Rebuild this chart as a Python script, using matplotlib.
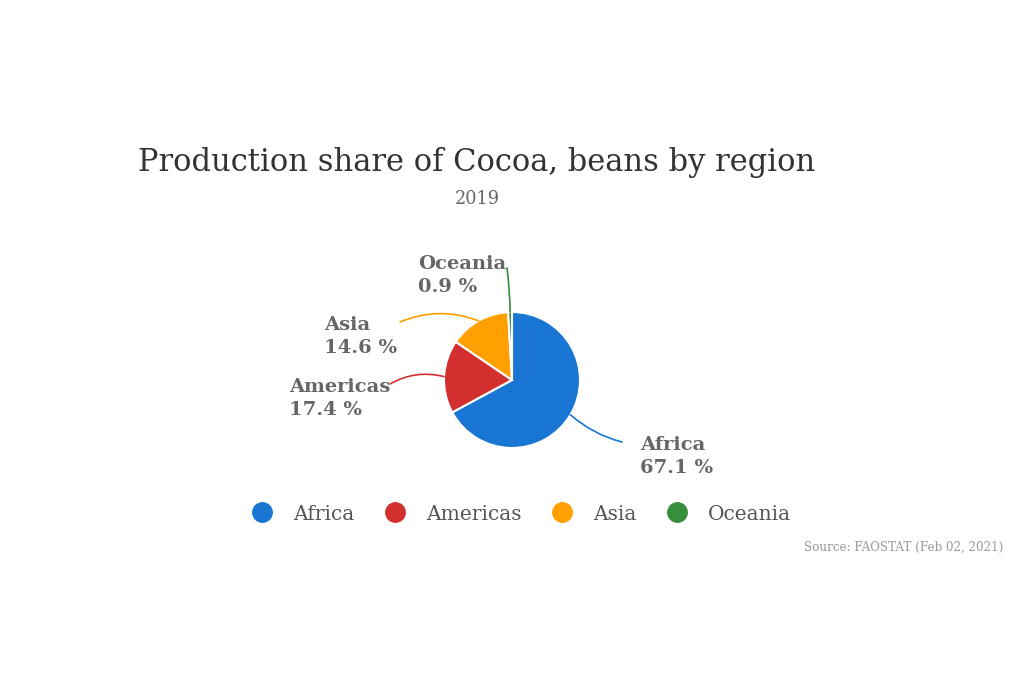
import matplotlib.pyplot as plt
from matplotlib.lines import Line2D
import numpy as np

regions = ["Africa", "Americas", "Asia", "Oceania"]
shares = [67.1, 17.4, 14.6, 0.9]
colors = ["#1976d2", "#d32f2f", "#ffa000", "#388e3c"]
title = "Production share of Cocoa, beans by region"
subtitle = "2019"
source = "Source: FAOSTAT (Feb 02, 2021)"

W, H = 1024, 683
plt.rcParams['font.family'] = ['DejaVu Serif']

fig = plt.figure(figsize=(W / 100, H / 100), dpi=100)
ax = fig.add_axes([0, 0, 1, 1])

def px(x, y):
    # image pixel (from top) -> data coords (from bottom)
    return x, H - y

cx, cy = px(512, 380)
radius = 68
wedges, _ = ax.pie(shares, colors=colors, startangle=90, counterclock=False,
                   center=(cx, cy), radius=radius,
                   wedgeprops=dict(edgecolor="white", linewidth=1.5))
ax.set_xlim(0, W)
ax.set_ylim(0, H)
ax.set_aspect("equal")
ax.axis("off")

# leader line ends and label anchors (image pixels)
leader_ends = [(622, 442), (390, 384), (400, 322), (507, 268)]
label_pos = [(640, 436), (289, 378), (324, 316), (418, 255)]
rads = [-0.12, -0.2, -0.2, -0.03]

for w, share, name, c, end, lp, rad in zip(wedges, shares, regions, colors,
                                          leader_ends, label_pos, rads):
    mid = np.deg2rad((w.theta1 + w.theta2) / 2)
    edge = (cx + radius * np.cos(mid), cy + radius * np.sin(mid))
    ax.annotate("", xy=edge, xytext=px(*end),
                arrowprops=dict(arrowstyle="-", color=c, lw=1.2,
                                connectionstyle=f"arc3,rad={rad}",
                                shrinkA=0, shrinkB=0))
    ax.text(*px(*lp), f"{name}\n{share} %", ha="left", va="top",
            fontsize=14, fontweight="bold", color="#666666", linespacing=1.35)

ax.text(*px(477, 163), title, ha="center", va="center", fontsize=22, color="#333333")
ax.text(*px(477, 199), subtitle, ha="center", va="center", fontsize=12.8, color="#666666")
ax.text(*px(1003, 547), source, ha="right", va="center", fontsize=8.6, color="#999999")

handles = [Line2D([], [], linestyle="none", marker="o", markersize=14,
                  markerfacecolor=c, markeredgecolor=c) for c in colors]
ax.legend(handles, regions, loc="center", bbox_to_anchor=(519 / W, 1 - 514 / H),
          ncol=4, frameon=False, fontsize=14.5, labelcolor="#555555",
          handletextpad=0.8, columnspacing=1.25, handlelength=1.5)

fig.savefig("out.png", dpi=100)
